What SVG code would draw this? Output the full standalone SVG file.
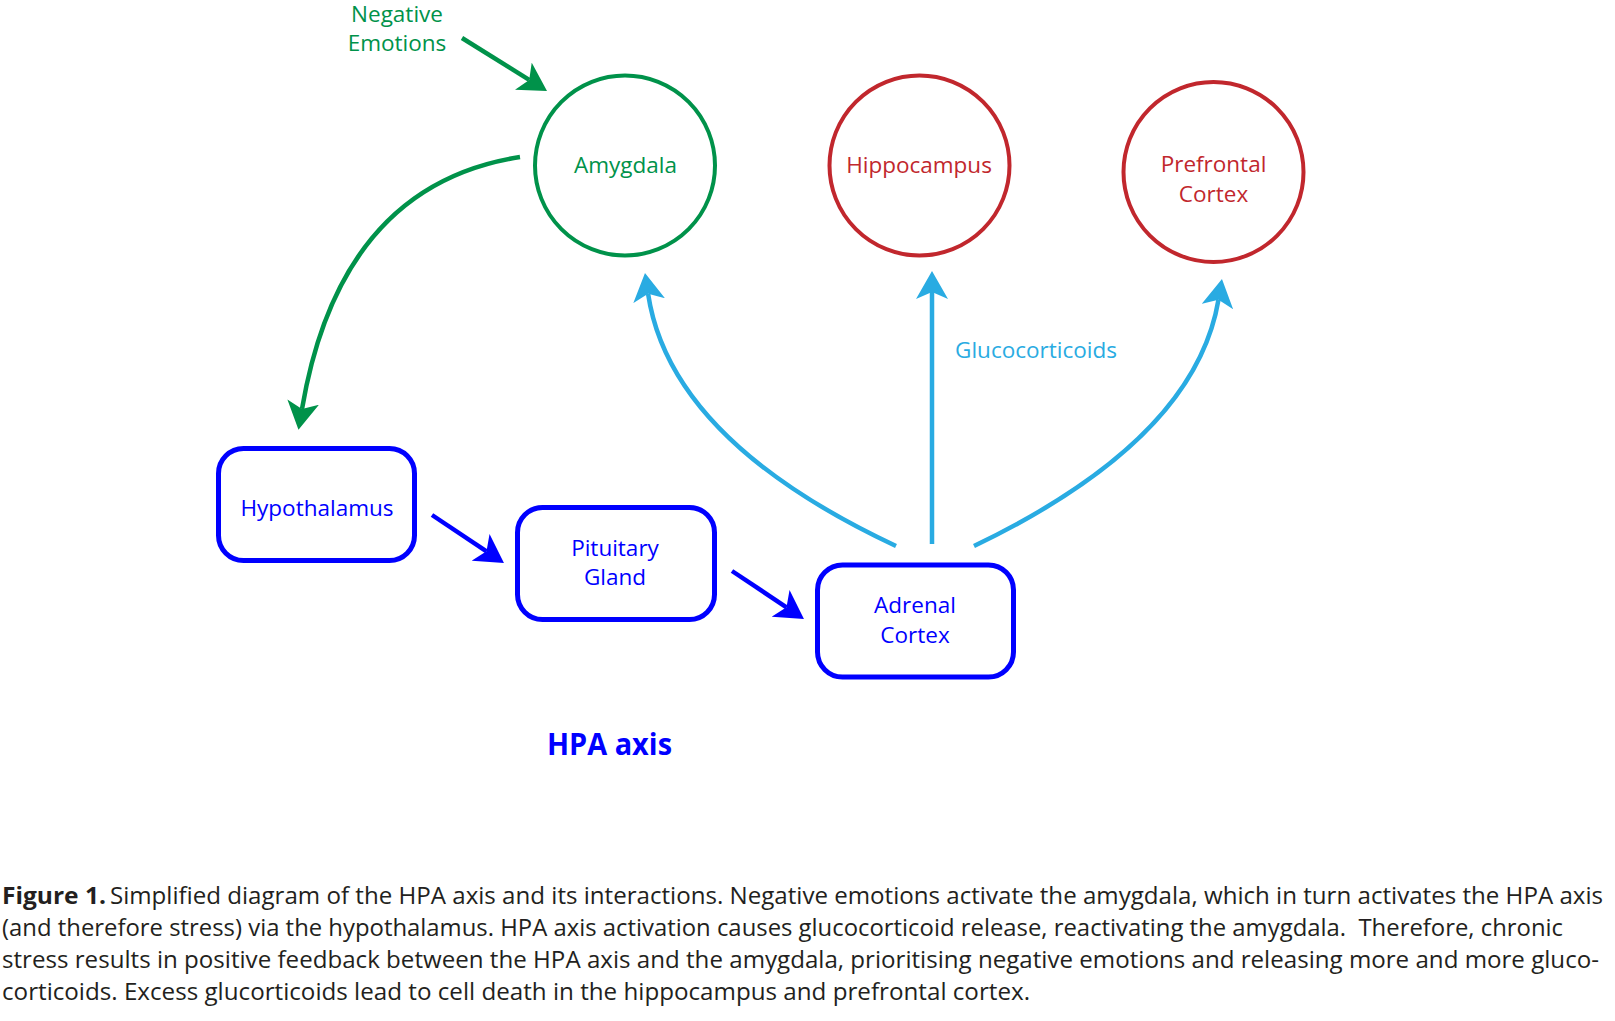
<svg xmlns="http://www.w3.org/2000/svg" width="1615" height="1021" viewBox="0 0 1615 1021">
<style>
.lbl{font-family:"Open Sans","Liberation Sans",sans-serif;font-size:22.5px;text-anchor:middle}
.g{fill:#00924a}
.r{fill:#c1272d}
.b{fill:#0000ff}
.lb{fill:#29abe2}
.circG{fill:none;stroke:#00924a;stroke-width:4}
.circR{fill:none;stroke:#c1272d;stroke-width:4}
.box{fill:none;stroke:#0000ff;stroke-width:5}
.cap{font-family:"Open Sans","Liberation Sans",sans-serif;font-size:24px;fill:#231f20}
.eg{fill:none;stroke:#00924a;stroke-width:4.5}
.eb{fill:none;stroke:#0000ff;stroke-width:4.5}
.el{fill:none;stroke:#29abe2;stroke-width:4.5}
</style>
<defs>
<marker id="mG" viewBox="0 0 28 32" refX="7" refY="16" markerWidth="28" markerHeight="32" markerUnits="userSpaceOnUse" orient="auto"><path d="M0,0 L28,16 L0,32 L7,16 z" fill="#00924a"/></marker>
<marker id="mB" viewBox="0 0 28 32" refX="7" refY="16" markerWidth="28" markerHeight="32" markerUnits="userSpaceOnUse" orient="auto"><path d="M0,0 L28,16 L0,32 L7,16 z" fill="#0000ff"/></marker>
<marker id="mL" viewBox="0 0 28 32" refX="7" refY="16" markerWidth="28" markerHeight="32" markerUnits="userSpaceOnUse" orient="auto"><path d="M0,0 L28,16 L0,32 L7,16 z" fill="#29abe2"/></marker>
</defs>

<g id="connectors">
<path class="eg" d="M462,38 L529.2,79.9" marker-end="url(#mG)"/>
<path class="eg" d="M520,157 Q340,185 302,409" marker-end="url(#mG)"/>
<path class="eb" d="M432,515 L486.5,551.3" marker-end="url(#mB)"/>
<path class="eb" d="M732,571 L786.5,607.3" marker-end="url(#mB)"/>
<path class="el" d="M896,546 Q670,440 648.1,293.8" marker-end="url(#mL)"/>
<path class="el" d="M932,544 L932,292" marker-end="url(#mL)"/>
<path class="el" d="M974,546 Q1195,440 1218.5,299.7" marker-end="url(#mL)"/>
<text class="lbl lb" x="1036" y="358">Glucocorticoids</text>
</g>

<g id="negative-emotions">
<text class="lbl g" x="397" y="22">Negative</text>
<text class="lbl g" x="397" y="51">Emotions</text>
</g>

<g id="amygdala">
<circle class="circG" cx="625" cy="165.5" r="90"/>
<text class="lbl g" x="625.5" y="173">Amygdala</text>
</g>

<g id="hippocampus">
<circle class="circR" cx="919.5" cy="165.5" r="90"/>
<text class="lbl r" x="919" y="173">Hippocampus</text>
</g>

<g id="prefrontal-cortex">
<circle class="circR" cx="1213.5" cy="172" r="90"/>
<text class="lbl r" x="1213.5" y="172">Prefrontal</text>
<text class="lbl r" x="1213.5" y="202">Cortex</text>
</g>

<g id="hypothalamus">
<rect class="box" x="218.5" y="448.5" width="196" height="112" rx="25"/>
<text class="lbl b" x="317" y="516">Hypothalamus</text>
</g>

<g id="pituitary-gland">
<rect class="box" x="517.5" y="507.5" width="197" height="112" rx="25"/>
<text class="lbl b" x="615" y="556">Pituitary</text>
<text class="lbl b" x="615" y="585">Gland</text>
</g>

<g id="adrenal-cortex">
<rect class="box" x="817.5" y="565" width="196" height="112" rx="25"/>
<text class="lbl b" x="915" y="613">Adrenal</text>
<text class="lbl b" x="915" y="643">Cortex</text>
</g>

<g id="hpa-axis-label">
<text x="609.5" y="755" font-family="'Open Sans','Liberation Sans',sans-serif" font-size="31" font-weight="bold" fill="#0000ff" text-anchor="middle" textLength="125" lengthAdjust="spacingAndGlyphs">HPA axis</text>
</g>

<g id="caption">
<text class="cap" x="2" y="904" font-weight="bold" textLength="104" lengthAdjust="spacingAndGlyphs">Figure 1.</text>
<text class="cap" x="110" y="904" textLength="1493" lengthAdjust="spacingAndGlyphs">Simplified diagram of the HPA axis and its interactions. Negative emotions activate the amygdala, which in turn activates the HPA axis</text>
<text class="cap" x="2" y="936" textLength="1561" lengthAdjust="spacingAndGlyphs" xml:space="preserve">(and therefore stress) via the hypothalamus. HPA axis activation causes glucocorticoid release, reactivating the amygdala.  Therefore, chronic</text>
<text class="cap" x="2" y="968" textLength="1597" lengthAdjust="spacingAndGlyphs">stress results in positive feedback between the HPA axis and the amygdala, prioritising negative emotions and releasing more and more gluco-</text>
<text class="cap" x="2" y="1000" textLength="1028" lengthAdjust="spacingAndGlyphs">corticoids. Excess glucorticoids lead to cell death in the hippocampus and prefrontal cortex.</text>
</g>
</svg>
